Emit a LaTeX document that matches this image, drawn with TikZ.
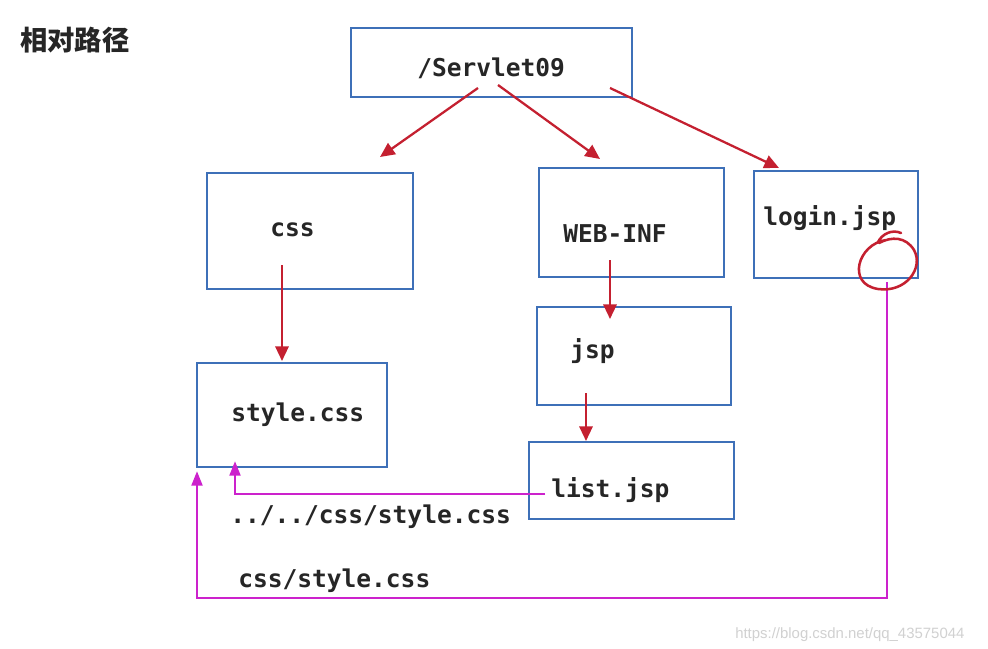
\documentclass[tikz,border=0pt]{standalone}
\usepackage{fontspec}
\setmainfont{Liberation Sans}
\setmonofont{DejaVu Sans Mono}
\newfontfamily\cjk{Noto Sans CJK SC}
\usetikzlibrary{arrows.meta,fit}
\definecolor{boxblue}{HTML}{3E70B8}
\definecolor{arrred}{HTML}{C42030}
\definecolor{mag}{HTML}{CC22CC}
\begin{document}
\begin{tikzpicture}[x=0.75pt,y=-0.75pt,
  box/.style={draw=boxblue, line width=1.6pt, inner sep=0pt, outer sep=0pt},
  lbl/.style={font=\ttfamily\bfseries\fontsize{18.4}{20}\selectfont, inner sep=0pt, anchor=base west, text=black!85},
  rarr/.style={draw=arrred, line width=1.7pt, -{Triangle[length=11pt,width=10pt]}},
  marr/.style={draw=mag, line width=2.2pt, -{Triangle[length=11pt,width=8pt]}}]
\useasboundingbox (0,0) rectangle (988,649);
\fill[white] (0,0) rectangle (988,649);
% boxes
\node[box, fit={(351,28) (632,97)}] (serv) {};
\node[box, fit={(207,173) (413,289)}] (css) {};
\node[box, fit={(539,168) (724,277)}] (web) {};
\node[box, fit={(754,171) (918,278)}] (login) {};
\node[box, fit={(197,363) (387,467)}] (style) {};
\node[box, fit={(537,307) (731,405)}] (jsp) {};
\node[box, fit={(529,442) (734,519)}] (list) {};
% texts
\node[anchor=base west, inner sep=0pt, font=\cjk\bfseries\fontsize{20.5}{24}\selectfont, text=black!85] (title) at (20,51) {相对路径};
\node[lbl] (tServ) at (417,77) {/Servlet09};
\node[lbl] (tCss) at (270,236) {css};
\node[lbl] (tWeb) at (563,242) {WEB-INF};
\node[lbl] (tLogin) at (763,225) {login.jsp};
\node[lbl] (tStyle) at (231,421) {style.css};
\node[lbl] (tJsp) at (570,358) {jsp};
\node[lbl] (tList) at (551,497) {list.jsp};
\node[lbl] (p1) at (230,523) {../../css/style.css};
\node[lbl] (p2) at (238,587) {css/style.css};
\node[anchor=base west, inner sep=0pt, font=\fontsize{11.2}{13}\selectfont, text=black!18] (wm) at (735,638) {https://blog.csdn.net/qq\_43575044};
% red arrows
\coordinate (a1s) at (478,88); \coordinate (a1e) at (380,157);
\coordinate (a2s) at (498,85); \coordinate (a2e) at (600,159);
\coordinate (a3s) at (610,88); \coordinate (a3e) at (779,168);
\coordinate (a4s) at (282,265); \coordinate (a4e) at (282,361);
\coordinate (a5s) at (610,260); \coordinate (a5e) at (610,319);
\coordinate (a6s) at (586,393); \coordinate (a6e) at (586,441);
\draw[rarr] (a1s) -- (a1e);
\draw[rarr] (a2s) -- (a2e);
\draw[rarr] (a3s) -- (a3e);
\draw[rarr] (a4s) -- (a4e);
\draw[rarr] (a5s) -- (a5e);
\draw[rarr] (a6s) -- (a6e);
% magenta arrows
\coordinate (m1s) at (545,494); \coordinate (m1e) at (235,461);
\draw[marr] (m1s) -| (m1e);
\coordinate (m2s) at (887,282); \coordinate (m2c) at (887,598); \coordinate (m2e) at (197,471);
\draw[marr] (m2s) -- (m2c) -| (m2e);
% hand-drawn circle
\draw[arrred, line width=1.9pt, line cap=round, line join=round]
  (878,242) .. controls (882,234) and (892,229) .. (901,233)
  (886,240) .. controls (858,244) and (846,284) .. (878,289)
  .. controls (906,293) and (924,268) .. (914,250)
  .. controls (906,237) and (892,236) .. (879,243);
\end{tikzpicture}
\end{document}
